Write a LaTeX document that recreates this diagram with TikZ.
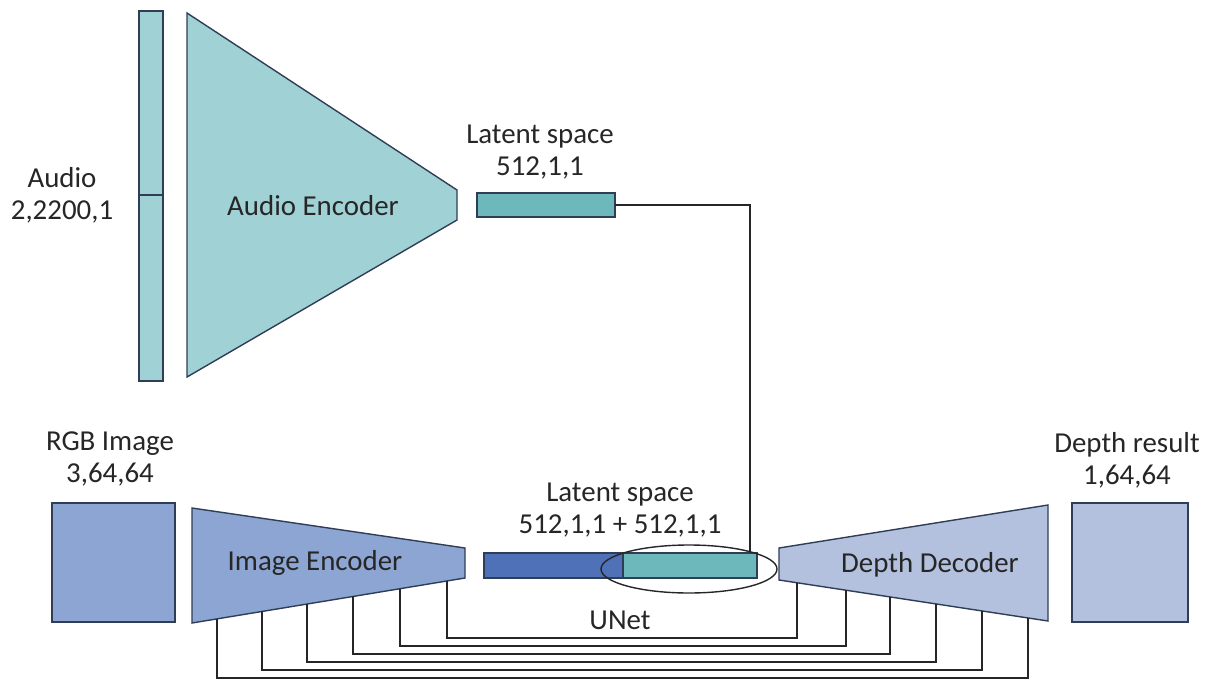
\documentclass[tikz,border=0pt]{standalone}
\usepackage{fontspec}
\setmainfont{Carlito}
\usetikzlibrary{fit,calc}
\definecolor{edgec}{HTML}{2F3E56}
\definecolor{audioc}{HTML}{A0D1D4}
\definecolor{latteal}{HTML}{6DB8BB}
\definecolor{darkblue}{HTML}{4F71B7}
\definecolor{imgc}{HTML}{8DA5D2}
\definecolor{decc}{HTML}{B3C1DE}
\begin{document}
\begin{tikzpicture}[x=0.5bp,y=-0.5bp,
  blk/.style={draw=edgec,line width=0.7bp,inner sep=0pt,outer sep=0pt},
  lbl/.style={font=\fontsize{14.5}{16}\selectfont,align=center,inner sep=0pt,text=black!85},
  wire/.style={draw=black!85,line width=0.7bp}]
\useasboundingbox (0,0) rectangle (1208,680);

% audio input
\node (audioA) [blk,fill=audioc,fit={(139,11)(163,195)}] {};
\node (audioB) [blk,fill=audioc,fit={(139,195)(163,381)}] {};
\node (audiolbl) [lbl] at (62,195) {Audio\\2,2200,1};

% audio encoder
\draw[blk,fill=audioc] (187,13) -- (457,190) -- (457,220) -- (187,377) -- cycle;
\node (audioenc) [lbl] at (313,206) {Audio Encoder};

% top latent
\node (lat1) [blk,fill=latteal,fit={(477,193)(615,217)}] {};
\node (lat1lbl) [lbl] at (540,152) {Latent space\\512,1,1};

% rgb input
\node (rgb) [blk,fill=imgc,fit={(52,503)(175,622)}] {};
\node (rgblbl) [lbl] at (110,459) {RGB Image\\3,64,64};

% image encoder
\coordinate (ebl) at (192,623);
\coordinate (ebr) at (465,578);
\draw[blk,fill=imgc] (192,508) -- (465,548) -- (ebr) -- (ebl) -- cycle;
\node (imgenc) [lbl] at (315,563) {Image Encoder};

% bottom latent
\node (lat2a) [blk,fill=darkblue,fit={(484,553)(623,578)}] {};
\node (lat2b) [blk,fill=latteal,fit={(623,553)(757,578)}] {};
\node (lat2lbl) [lbl] at (620,510) {Latent space\\512,1,1 + 512,1,1};
\draw[wire] (689,569) ellipse [x radius=88, y radius=24];
\node (unet) [lbl] at (620,620) {UNet};

% join connector
\coordinate (join) at (750,552);
\draw[wire] (lat1.east) -| (join);

% depth decoder
\coordinate (dbl) at (779,580);
\coordinate (dbr) at (1048,621);
\draw[blk,fill=decc] (779,548) -- (1048,505) -- (dbr) -- (dbl) -- cycle;
\node (depdec) [lbl] at (930,565) {Depth Decoder};

% depth output
\node (depth) [blk,fill=decc,fit={(1072,503)(1188,622)}] {};
\node (depthlbl) [lbl] at (1127,460) {Depth result\\1,64,64};

% skip connections
\foreach \i/\f/\g/\y in {1/0.934/0.067/638, 2/0.762/0.249/646, 3/0.590/0.413/654, 4/0.421/0.584/662, 5/0.256/0.755/670, 6/0.0916/0.926/678}{
  \coordinate (s\i) at ($(ebl)!\f!(ebr)$);
  \coordinate (t\i) at ($(dbl)!\g!(dbr)$);
  \draw[wire] (s\i) -- (s\i |- 0,\y) -| (t\i);
}
\end{tikzpicture}
\end{document}
